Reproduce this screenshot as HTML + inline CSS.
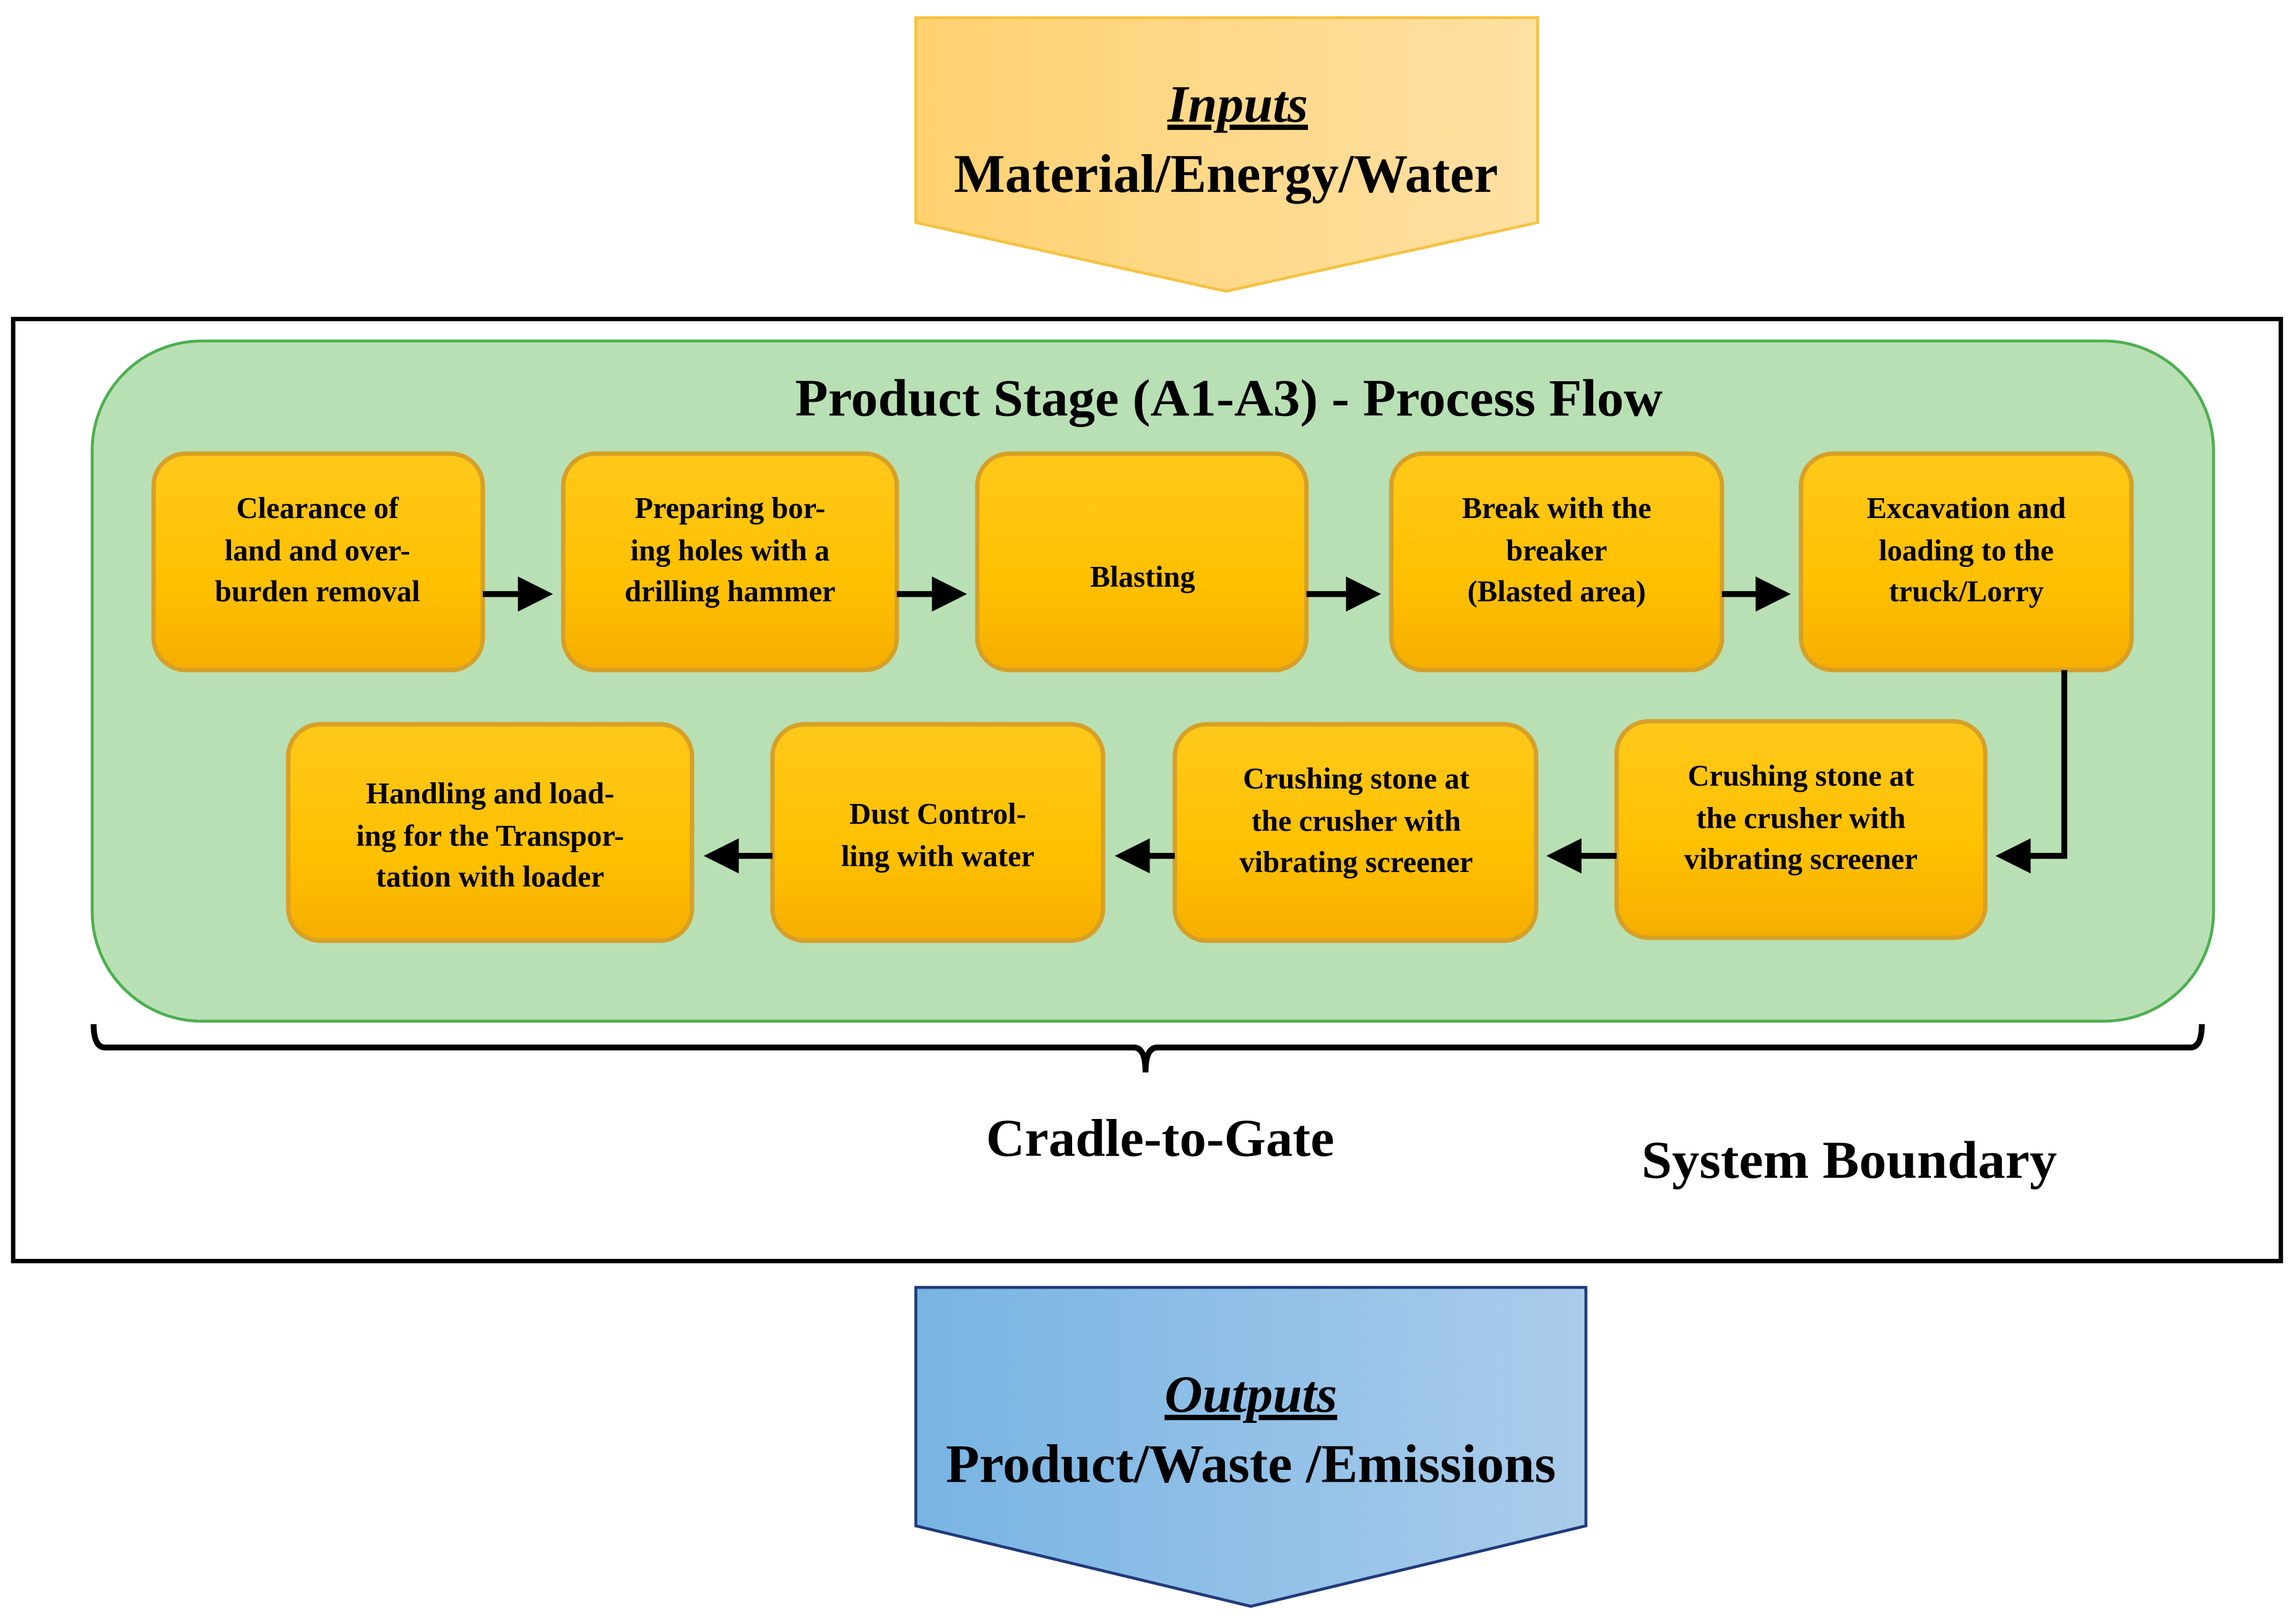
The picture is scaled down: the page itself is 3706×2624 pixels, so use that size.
<!DOCTYPE html>
<html><head><meta charset="utf-8"><style>
html,body{margin:0;padding:0;background:#fff;}
svg{display:block;}
text{font-family:"Liberation Serif",serif;font-weight:bold;fill:#000;}
</style></head><body>
<svg width="3706" height="2624" viewBox="0 0 1568 1110" xmlns="http://www.w3.org/2000/svg">
<defs>
<linearGradient id="inG" x1="0" y1="0" x2="1" y2="0"><stop offset="0" stop-color="#FFD170"/><stop offset="1" stop-color="#FFE0A4"/></linearGradient>
<linearGradient id="outG" x1="0" y1="0" x2="1" y2="0"><stop offset="0" stop-color="#78B4E3"/><stop offset="1" stop-color="#AACCEB"/></linearGradient>
<linearGradient id="bx" x1="0" y1="0" x2="0" y2="1"><stop offset="0" stop-color="#FFC81A"/><stop offset="0.6" stop-color="#FFC000"/><stop offset="1" stop-color="#F5AE00"/></linearGradient>
<marker id="ah" markerWidth="6" markerHeight="6" refX="5" refY="3" orient="auto" markerUnits="strokeWidth"><path d="M0,0 L6,3 L0,6 z" fill="#000"/></marker>
</defs>
<polygon points="626,12 1051,12 1051,152 838,199 626,152" fill="url(#inG)" stroke="#F5C242" stroke-width="2"/>
<text x="846" y="83" font-size="36" font-style="italic" text-anchor="middle" text-decoration="underline">Inputs </text>
<text x="838" y="131" font-size="37" text-anchor="middle">Material/Energy/Water</text>
<rect x="9" y="218" width="1550" height="644" fill="none" stroke="#000" stroke-width="3"/>
<rect x="63" y="233" width="1450" height="465" rx="75" fill="#B9E0B4" stroke="#4CAF50" stroke-width="2"/>
<text x="840" y="284" font-size="36" text-anchor="middle" textLength="593" lengthAdjust="spacingAndGlyphs">Product Stage (A1-A3) - Process Flow</text>
<g fill="url(#bx)" stroke="#D6A028" stroke-width="3">
<rect x="105" y="310" width="225" height="148" rx="22"/>
<rect x="385" y="310" width="228" height="148" rx="22"/>
<rect x="668" y="310" width="225" height="148" rx="22"/>
<rect x="951" y="310" width="226" height="148" rx="22"/>
<rect x="1231" y="310" width="226" height="148" rx="22"/>
<rect x="197" y="495" width="276" height="148" rx="22"/>
<rect x="528" y="495" width="226" height="148" rx="22"/>
<rect x="803" y="495" width="247" height="148" rx="22"/>
<rect x="1105" y="493" width="252" height="148" rx="22"/>
</g>
<g font-size="20.5" text-anchor="middle">
<text x="217" y="354">Clearance of</text><text x="217" y="383">land and over-</text><text x="217" y="411">burden removal</text>
<text x="499" y="354">Preparing bor-</text><text x="499" y="383">ing holes with a</text><text x="499" y="411">drilling hammer</text>
<text x="781" y="401">Blasting</text>
<text x="1064" y="354">Break with the</text><text x="1064" y="383">breaker</text><text x="1064" y="411">(Blasted area)</text>
<text x="1344" y="354">Excavation and</text><text x="1344" y="383">loading to the</text><text x="1344" y="411">truck/Lorry</text>
<text x="335" y="549">Handling and load-</text><text x="335" y="578">ing for the Transpor-</text><text x="335" y="606">tation with loader</text>
<text x="641" y="563">Dust Control-</text><text x="641" y="592">ling with water</text>
<text x="927" y="539">Crushing stone at</text><text x="927" y="568">the crusher with</text><text x="927" y="596">vibrating screener</text>
<text x="1231" y="537">Crushing stone at</text><text x="1231" y="566">the crusher with</text><text x="1231" y="594">vibrating screener</text>
</g>
<g stroke="#000" stroke-width="4" fill="none" marker-end="url(#ah)">
<line x1="330" y1="406" x2="374" y2="406"/>
<line x1="613" y1="406" x2="657" y2="406"/>
<line x1="893" y1="406" x2="940" y2="406"/>
<line x1="1177" y1="406" x2="1220" y2="406"/>
<polyline points="1411,458 1411,585 1368,585"/>
<line x1="1105" y1="585" x2="1061" y2="585"/>
<line x1="803" y1="585" x2="766" y2="585"/>
<line x1="528" y1="585" x2="485" y2="585"/>
</g>
<path d="M64,700 Q64,716 72,716 L775,716 Q783,716 783,733 Q783,716 791,716 L1497,716 Q1505,716 1505,700" fill="none" stroke="#000" stroke-width="4"/>
<text x="793" y="790" font-size="36.5" text-anchor="middle" textLength="238" lengthAdjust="spacingAndGlyphs">Cradle-to-Gate</text>
<text x="1264" y="805" font-size="36.5" text-anchor="middle" textLength="284" lengthAdjust="spacingAndGlyphs">System Boundary</text>
<polygon points="626,880 1084,880 1084,1043 855,1098 626,1043" fill="url(#outG)" stroke="#1F3A7A" stroke-width="2"/>
<text x="855" y="965" font-size="36" font-style="italic" text-anchor="middle" text-decoration="underline">Outputs</text>
<text x="855" y="1013" font-size="37" text-anchor="middle" textLength="417" lengthAdjust="spacingAndGlyphs">Product/Waste /Emissions</text>
</svg>
</body></html>
